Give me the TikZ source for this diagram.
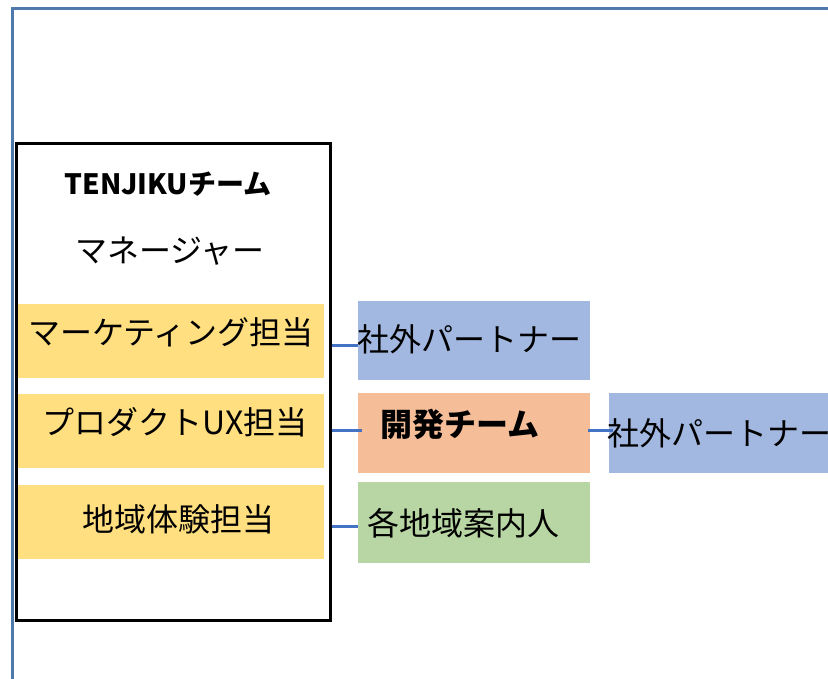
\documentclass[tikz,border=0pt]{standalone}
\usepackage{fontspec}
\setmainfont{Noto Sans CJK JP}
\definecolor{framec}{HTML}{4E79AA}
\definecolor{linkc}{HTML}{4472C4}
\definecolor{yel}{HTML}{FFDF80}
\definecolor{blu}{HTML}{A3B8E0}
\definecolor{ora}{HTML}{F5BD98}
\definecolor{gre}{HTML}{B8D6A3}
\tikzset{
  boxfill/.style={inner sep=0, minimum width=#1, anchor=north west},
  lbl/.style={inner sep=0, font=\fontsize{32}{36}\selectfont},
  link/.style={draw=linkc, line width=3pt},
}
\begin{document}
\begin{tikzpicture}[x=1pt,y=-1pt]
\useasboundingbox (0,0) rectangle (828,678);
% page frame
\draw[framec, line width=2.6pt] (12.5,679) -- (12.5,8.5) -- (830,8.5);
% team box
\node[draw=black, line width=3pt, inner sep=0, minimum width=314, minimum height=477, anchor=north west] (team) at (15,142) {};
% yellow boxes
\node[boxfill=306, minimum height=74, fill=yel] (mk) at (18,304) {};
\node[boxfill=306, minimum height=74, fill=yel] (ux) at (18,394) {};
\node[boxfill=306, minimum height=74, fill=yel] (rg) at (18,485) {};
% right boxes
\node[boxfill=232, minimum height=79, fill=blu] (sp1) at (358,301) {};
\node[boxfill=232, minimum height=80, fill=ora] (dev) at (358,393) {};
\node[boxfill=232, minimum height=81, fill=gre] (guide) at (358,482) {};
\node[boxfill=225, minimum height=80, fill=blu] (sp2) at (609,393) {};
% texts
\node[lbl, font=\fontsize{28}{32}\selectfont\bfseries] (t1) at (168,184) {TENJIKUチーム};
\node[lbl] (t2) at (170,251) {マネージャー};
\node[lbl] (t3) at (171,332) {マーケティング担当};
\node[lbl] (t4) at (175,422) {プロダクトUX担当};
\node[lbl] (t5) at (178,519) {地域体験担当};
\node[lbl, anchor=west] (t6) at (357,339) {社外パートナー};
\node[lbl, font=\fontsize{32}{36}\selectfont\bfseries] (t7) at (460,424) {開発チーム};
\node[lbl, anchor=west] (t8) at (367,523) {各地域案内人};
\node[lbl, anchor=west] (t9) at (607,433) {社外パートナー};
% connectors
\draw[link] (team.east |- 0,345) -- (sp1.west |- 0,345);
\draw[link] (team.east |- 0,430) -- ([xshift=4pt]dev.west |- 0,430);
\draw[link] (team.east |- 0,526) -- (guide.west |- 0,526);
\draw[link] ([xshift=-2pt]dev.east |- 0,430) -- ([xshift=4pt]sp2.west |- 0,430);
\end{tikzpicture}
\end{document}
